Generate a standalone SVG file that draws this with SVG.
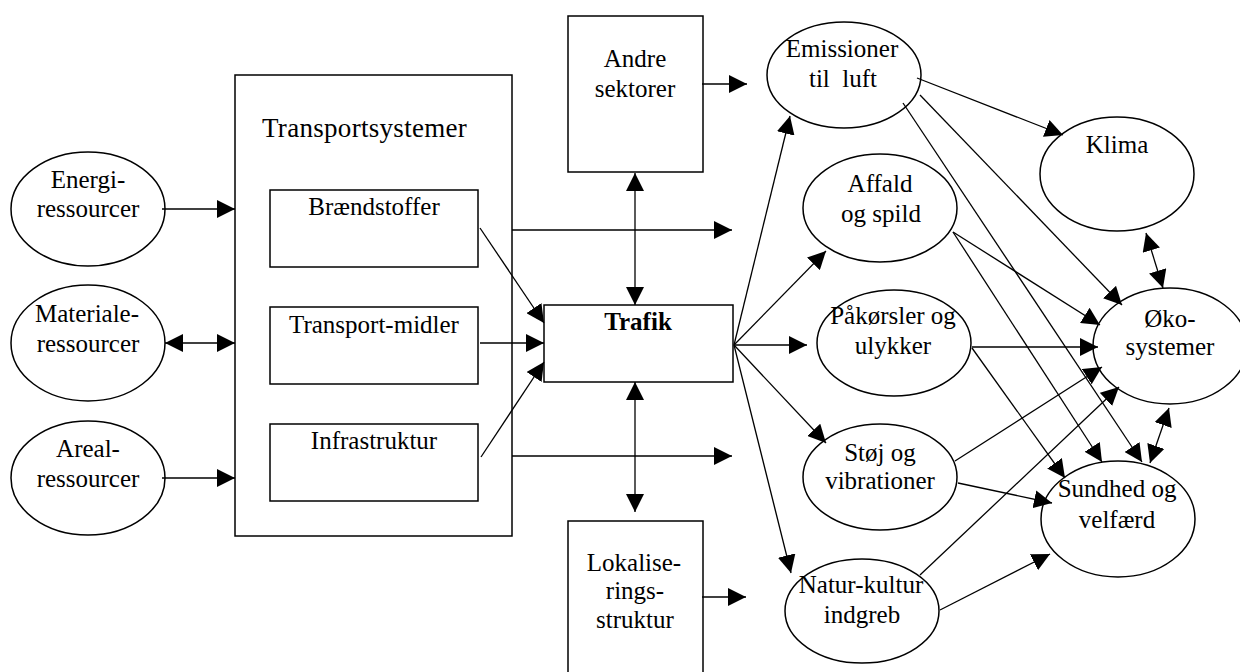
<svg xmlns="http://www.w3.org/2000/svg" width="1240" height="672" viewBox="0 0 1240 672">
<defs>
<style>
.s{fill:#fff;stroke:#000;stroke-width:1.5}
.t{font-family:'Liberation Serif',Tinos,'Times New Roman','DejaVu Serif',serif;font-size:25px;fill:#000;text-anchor:middle}
.c line{stroke:#000;stroke-width:1.3;marker-end:url(#ah)}
.c line.d{marker-start:url(#ah)}
</style>
<marker id="ah" viewBox="0 0 18 18" refX="18" refY="9" markerWidth="18" markerHeight="18" markerUnits="userSpaceOnUse" orient="auto-start-reverse">
<path d="M0,0 L18,9 L0,18 z" fill="#000"/>
</marker>
</defs>
<rect width="1240" height="672" fill="#fff"/>

<g id="energi"><ellipse class="s" cx="88" cy="209" rx="77" ry="57"/><text class="t" x="88" y="188">Energi-</text><text class="t" x="88" y="217">ressourcer</text></g>
<g id="materiale"><ellipse class="s" cx="88" cy="343" rx="77" ry="58"/><text class="t" x="87" y="322">Materiale-</text><text class="t" x="88" y="352">ressourcer</text></g>
<g id="areal"><ellipse class="s" cx="88" cy="478" rx="77" ry="57"/><text class="t" x="88" y="457">Areal-</text><text class="t" x="88" y="487">ressourcer</text></g>

<g id="transportsystemer"><rect class="s" x="235" y="75" width="277" height="461"/><text class="t" x="262" y="137" style="text-anchor:start;font-size:27px;letter-spacing:0.3px">Transportsystemer</text></g>
<g id="braendstoffer"><rect class="s" x="270" y="190" width="208" height="77"/><text class="t" x="374" y="215">Brændstoffer</text></g>
<g id="transportmidler"><rect class="s" x="270" y="307" width="208" height="77"/><text class="t" x="374" y="333">Transport-midler</text></g>
<g id="infrastruktur"><rect class="s" x="270" y="424" width="208" height="77"/><text class="t" x="374" y="449">Infrastruktur</text></g>

<g id="andre"><rect class="s" x="568" y="16" width="135" height="156"/><text class="t" x="635" y="67">Andre</text><text class="t" x="635" y="97">sektorer</text></g>
<g id="trafik"><rect class="s" x="544" y="305" width="189" height="77"/><text class="t" x="638" y="330" style="font-weight:bold">Trafik</text></g>
<g id="lokalisering"><rect class="s" x="568" y="521" width="135" height="170"/><text class="t" x="634" y="571">Lokalise-</text><text class="t" x="635" y="599">rings-</text><text class="t" x="635" y="628">struktur</text></g>

<g id="emissioner"><ellipse class="s" cx="844" cy="75" rx="77" ry="53"/><text class="t" x="842" y="57">Emissioner</text><text class="t" x="843" y="87" xml:space="preserve" style="white-space:pre">til  luft</text></g>
<g id="affald"><ellipse class="s" cx="880" cy="208" rx="77" ry="54"/><text class="t" x="880" y="192">Affald</text><text class="t" x="881" y="222">og spild</text></g>
<g id="paakoersler"><ellipse class="s" cx="894" cy="343" rx="77" ry="53"/><text class="t" x="893" y="324">Påkørsler og</text><text class="t" x="893" y="354">ulykker</text></g>
<g id="stoej"><ellipse class="s" cx="880" cy="477" rx="77" ry="53"/><text class="t" x="880" y="461">Støj og</text><text class="t" x="880" y="489">vibrationer</text></g>
<g id="natur"><ellipse class="s" cx="862" cy="611" rx="77" ry="52"/><text class="t" x="861" y="593">Natur-kultur</text><text class="t" x="862" y="623">indgreb</text></g>
<g id="klima"><ellipse class="s" cx="1117" cy="174" rx="77" ry="57"/><text class="t" x="1117" y="153">Klima</text></g>
<g id="oekosystemer"><ellipse class="s" cx="1170" cy="346" rx="77" ry="58"/><text class="t" x="1170" y="327">Øko-</text><text class="t" x="1170" y="355">systemer</text></g>
<g id="sundhed"><ellipse class="s" cx="1118" cy="519" rx="77" ry="58"/><text class="t" x="1117" y="497">Sundhed og</text><text class="t" x="1117" y="528">velfærd</text></g>

<g id="connectors" class="c">
<line x1="162" y1="209" x2="235" y2="209"/>
<line class="d" x1="165" y1="343" x2="235" y2="343"/>
<line x1="162" y1="478" x2="235" y2="478"/>
<line x1="480" y1="228" x2="544" y2="323"/>
<line x1="480" y1="343" x2="544" y2="343"/>
<line x1="481" y1="457" x2="544" y2="362"/>
<line x1="512" y1="230" x2="732" y2="230"/>
<line x1="512" y1="456" x2="732" y2="456"/>
<line class="d" x1="635" y1="173" x2="635" y2="305"/>
<line class="d" x1="635" y1="382" x2="635" y2="512"/>
<line x1="702" y1="84" x2="747" y2="84"/>
<line x1="702" y1="597" x2="746" y2="597"/>
<line x1="734" y1="345" x2="790" y2="116"/>
<line x1="734" y1="345" x2="826" y2="251"/>
<line x1="734" y1="345" x2="807" y2="345"/>
<line x1="734" y1="345" x2="826" y2="443"/>
<line x1="734" y1="345" x2="791" y2="573"/>
<line x1="917" y1="78" x2="1063" y2="135"/>
<line x1="920" y1="95" x2="1122" y2="305"/>
<line x1="903" y1="103" x2="1142" y2="462"/>
<line x1="953" y1="232" x2="1100" y2="325"/>
<line x1="953" y1="232" x2="1102" y2="462"/>
<line x1="972" y1="347" x2="1098" y2="347"/>
<line x1="972" y1="348" x2="1065" y2="478"/>
<line x1="955" y1="461" x2="1102" y2="367"/>
<line x1="958" y1="483" x2="1052" y2="503"/>
<line x1="920" y1="575" x2="1119" y2="387"/>
<line x1="940" y1="610" x2="1050" y2="554"/>
<line class="d" x1="1146" y1="233" x2="1163" y2="288"/>
<line class="d" x1="1169" y1="408" x2="1150" y2="463"/>
</g>
</svg>
